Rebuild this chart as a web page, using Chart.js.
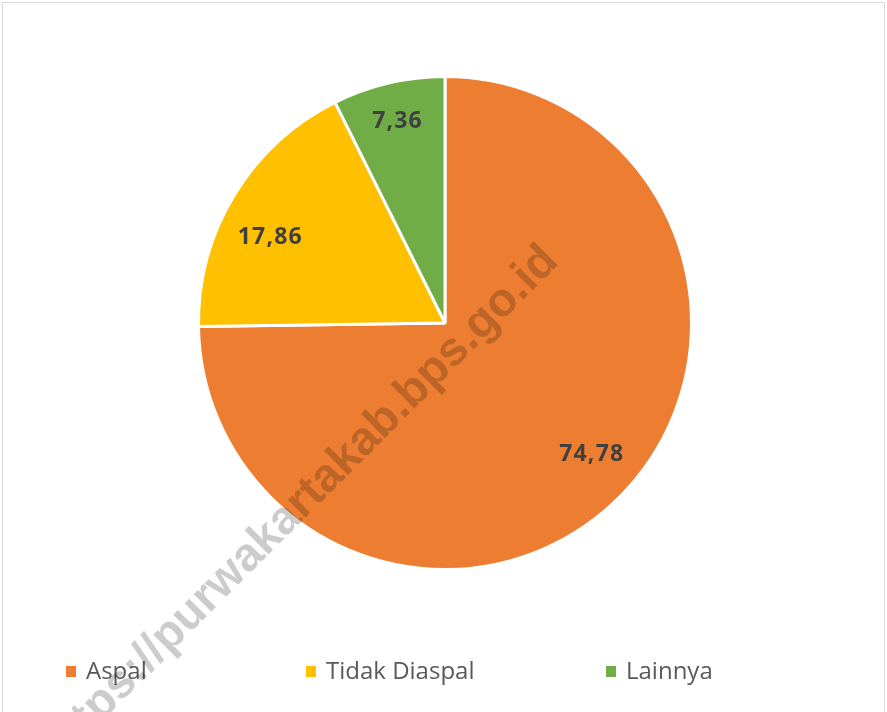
<!DOCTYPE html>
<html>
<head>
<meta charset="utf-8">
<script src="https://cdn.jsdelivr.net/npm/chart.js@4.4.1/dist/chart.umd.min.js"></script>
<style>
  html, body { margin: 0; padding: 0; background: #ffffff; overflow: hidden; }
  #wrap { position: relative; width: 887px; height: 712px; }
  #frame { position: absolute; left: 2px; top: 2px; width: 883px; height: 730px; border: 1px solid #d9d9d9; box-sizing: border-box; }
  canvas { position: absolute; left: 0; top: 0; }
</style>
</head>
<body>
<div id="wrap">
  <div id="frame"></div>
  <canvas id="pieChart" width="887" height="712"></canvas>
</div>
<script>
"use strict";

/* ---------- data ---------- */
const categories = ["Aspal", "Tidak Diaspal", "Lainnya"];
const shares = [74.78, 17.86, 7.36];
const sliceColors = ["#ED7D31", "#FFC000", "#70AD47"];
const valueLabels = ["74,78", "17,86", "7,36"];
const watermark = "https://purwakartakab.bps.go.id";

/* ---------- plugins ---------- */

// value labels inside each slice (angle fraction / radius fraction per slice, Excel-ish placement)
const labelAngleFrac = [0.49, 0.42, 0.5];
const labelRadiusFrac = [0.8, 0.79, 0.84];

const sliceLabels = {
  id: "sliceLabels",
  afterDatasetsDraw(chart) {
    const ctx = chart.ctx;
    const meta = chart.getDatasetMeta(0);
    ctx.save();
    ctx.font = "bold 23px 'Open Sans'";
    ctx.letterSpacing = "1.2px";
    ctx.fillStyle = "#404040";
    ctx.textAlign = "center";
    ctx.textBaseline = "middle";
    meta.data.forEach((arc, i) => {
      const p = arc.getProps(["x", "y", "startAngle", "endAngle", "outerRadius"], true);
      const a = p.startAngle + (p.endAngle - p.startAngle) * labelAngleFrac[i];
      const r = p.outerRadius * labelRadiusFrac[i];
      ctx.fillText(valueLabels[i], p.x + Math.cos(a) * r, p.y + Math.sin(a) * r);
    });
    ctx.restore();
  }
};

// legend row along the bottom, spaced like the original
const bottomLegend = {
  id: "bottomLegend",
  afterDraw(chart) {
    const ctx = chart.ctx;
    const xs = [66, 306, 606];
    ctx.save();
    ctx.font = "24px 'Open Sans'";
    ctx.textBaseline = "alphabetic";
    categories.forEach((name, i) => {
      ctx.fillStyle = sliceColors[i];
      ctx.fillRect(xs[i], 666, 10, 11);
      ctx.fillStyle = "#595959";
      ctx.fillText(name, xs[i] + 20, 679);
    });
    ctx.restore();
  }
};

// diagonal site watermark on top of everything
const watermarkText = {
  id: "watermarkText",
  afterDraw(chart) {
    const ctx = chart.ctx;
    ctx.save();
    ctx.translate(560, 263);
    ctx.rotate(-45 * Math.PI / 180);
    ctx.font = "bold 47px 'Liberation Sans'";
    ctx.fillStyle = "rgba(0, 0, 0, 0.2)";
    ctx.textAlign = "right";
    ctx.fillText(watermark, 0, 0);
    ctx.restore();
  }
};

/* ---------- chart ---------- */
new Chart(document.getElementById("pieChart"), {
  type: "pie",
  data: {
    labels: categories,
    datasets: [{
      data: shares,
      backgroundColor: sliceColors,
      borderColor: "#ffffff",
      borderWidth: 3
    }]
  },
  options: {
    responsive: false,
    animation: false,
    layout: { padding: { left: 197, right: 194, top: 75, bottom: 141 } },
    plugins: {
      legend: { display: false },
      tooltip: { enabled: false }
    }
  },
  plugins: [sliceLabels, bottomLegend, watermarkText]
});
</script>
</body>
</html>
